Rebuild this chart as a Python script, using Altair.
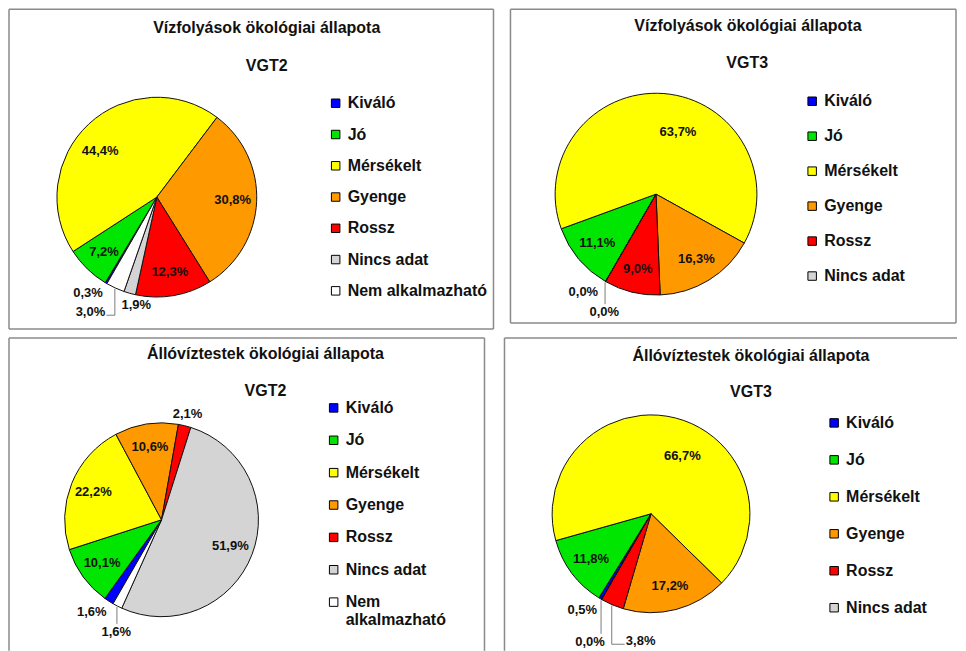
import math
import altair as alt
import pandas as pd

# ---------------- data ----------------
CATS7 = ["Kiváló", "Jó", "Mérsékelt", "Gyenge", "Rossz", "Nincs adat", "Nem alkalmazható"]
CATS6 = CATS7[:6]
COLORS = {
    "Kiváló": "#0000FF",
    "Jó": "#00E600",
    "Mérsékelt": "#FFFF00",
    "Gyenge": "#FF9900",
    "Rossz": "#FF0000",
    "Nincs adat": "#D4D4D4",
    "Nem alkalmazható": "#FFFFFF",
}

TITLE_VF = "Vízfolyások ökológiai állapota"
TITLE_AV = "Állóvíztestek ökológiai állapota"

vf_vgt2 = [0.3, 7.2, 44.4, 30.8, 12.3, 1.9, 3.0]
vf_vgt3 = [0.0, 11.1, 63.7, 16.3, 9.0, 0.0]
av_vgt2 = [1.6, 10.1, 22.2, 10.6, 2.1, 51.9, 1.6]
av_vgt3 = [0.5, 11.8, 66.7, 17.2, 3.8, 0.0]

# ---------------- style ----------------
FONT = "Liberation Sans"
A0 = math.radians(210)          # first slice angle
BORDER = "#8a8a8a"
LEADER = "#7a7a7a"


def case_expr(d, idx, default):
    s = str(default)
    for k, v in reversed(list(d.items())):
        s = f"(datum.cat == '{k}' ? {v[idx]} : {s})"
    return s


def make_panel(title, sub, cats, vals, g):
    df = pd.DataFrame({"cat": cats, "v": vals, "idx": list(range(len(cats)))})
    cx, cy = g["center"]
    r = g["r"]
    W, H = g["size"]

    legend = alt.Legend(
        orient="none", legendX=g["legend"][0], legendY=g["legend"][1], title=None,
        symbolType="square", symbolSize=72, symbolStrokeColor="black", symbolStrokeWidth=1,
        labelFont=FONT, labelFontSize=16, labelFontWeight="bold", labelColor="#111111",
        rowPadding=g["rowpad"], padding=0, labelOffset=4, labelLimit=300,
        **({"labelExpr": g["labelExpr"]} if "labelExpr" in g else {}),
    )
    arc = alt.Chart(df).mark_arc(outerRadius=r, stroke="#111111", strokeWidth=1).encode(
        theta=alt.Theta("v:Q", stack=True, scale=alt.Scale(range=[A0, A0 + 2 * math.pi])),
        color=alt.Color("cat:N", scale=alt.Scale(domain=cats, range=[COLORS[c] for c in cats]),
                        legend=legend),
        order=alt.Order("idx:Q"),
        x=alt.value(cx), y=alt.value(cy),
    )

    ov = g["labels"]
    base = (
        alt.Chart(df)
        .transform_joinaggregate(total="sum(v)")
        .transform_window(cum="sum(v)", sort=[alt.SortField("idx", order="ascending")], frame=[None, 0])
        .transform_calculate(mid=f"{A0} + 2*PI*(datum.cum - datum.v/2)/datum.total")
        .transform_calculate(da=case_expr(ov, 0, 0))
        .transform_calculate(dist=case_expr(ov, 1, round(0.76 * r, 1)))
        .transform_calculate(lead=case_expr(ov, 2, 0))
        .transform_calculate(ang="datum.mid + datum.da*PI/180")
        .transform_calculate(lx=f"{cx} + datum.dist*sin(datum.ang)")
        .transform_calculate(ly=f"{cy} - datum.dist*cos(datum.ang)")
        .transform_calculate(lab="replace(format(datum.v, '.1f'), '.', ',') + '%'")
    )
    labels = base.mark_text(font=FONT, fontSize=13, fontWeight="bold", color="#111111").encode(
        x=alt.X("lx:Q", scale=None, axis=None),
        y=alt.Y("ly:Q", scale=None, axis=None),
        text="lab:N",
    )
    lead = (
        base.transform_filter("datum.lead == 1")
        .transform_calculate(xe=f"{cx} + {r + 1}*sin(datum.mid)")
        .transform_calculate(ye=f"{cy} - {r + 1}*cos(datum.mid)")
        .transform_calculate(side="abs(datum.xe - datum.lx) > 18 ? 1 : 0")
        .transform_calculate(yend="datum.side == 1 ? datum.ly + 3 : datum.ly - 8")
        .transform_calculate(
            xh="datum.side == 1 ? (datum.lx < datum.xe ? datum.lx + 16 : datum.lx - 16) : datum.xe")
    )
    vert = lead.mark_rule(color=LEADER, strokeWidth=1).encode(
        x=alt.X("xe:Q", scale=None, axis=None),
        y=alt.Y("ye:Q", scale=None, axis=None),
        y2="yend:Q",
    )
    horiz = lead.mark_rule(color=LEADER, strokeWidth=1).encode(
        x=alt.X("xe:Q", scale=None, axis=None),
        x2="xh:Q",
        y=alt.Y("yend:Q", scale=None, axis=None),
    )

    one = alt.Data(values=[{"t": 1}])
    layers = []
    for side in g["borders"]:
        x0, y0, x1, y1 = side
        layers.append(
            alt.Chart(one).mark_rule(color=BORDER, strokeWidth=1.5).encode(
                x=alt.value(x0), y=alt.value(y0), x2=alt.value(x1), y2=alt.value(y1))
        )
    for txt, (tx, ty) in [(title, g["title"]), (sub, g["sub"])]:
        layers.append(
            alt.Chart(alt.Data(values=[{"t": txt}])).mark_text(
                font=FONT, fontSize=16, fontWeight="bold", color="#111111"
            ).encode(text="t:N", x=alt.value(tx), y=alt.value(ty))
        )
    layers += [arc, vert, horiz, labels]
    return alt.layer(*layers).properties(width=W, height=H)


# geometry of each panel (pixels inside the panel); total row width kept at 950
g1 = dict(size=(487, 322), center=(149, 189), r=100, title=(259, 20), sub=(259, 58),
          legend=(320, 87), rowpad=15.3,
          borders=[(1, 1, 486, 1), (1, 321, 486, 321), (1, 1, 1, 321), (486, 1, 486, 321)],
          labels={"Kiváló": (5.2, 118, 0), "Nem alkalmazható": (5.4, 133, 1),
                  "Nincs adat": (-5, 110, 0), "Mérsékelt": (-8, 73, 0)})
g2 = dict(size=(448, 322), center=(146.7, 186), r=101, title=(238.7, 18), sub=(238, 55),
          legend=(295, 85), rowpad=19,
          borders=[(1, 1, 447, 1), (1, 315, 447, 315), (1, 1, 1, 315), (447, 1, 447, 315)],
          labels={"Kiváló": (6.6, 122, 0), "Nincs adat": (-6.3, 129, 1),
                  "Mérsékelt": (15, 66, 0)})
g3 = dict(size=(478, 314), center=(153.7, 183), r=97, title=(257.7, 17), sub=(257.7, 54),
          legend=(318, 63), rowpad=16.4,
          borders=[(1, 1, 477, 1), (1, 1, 1, 314), (477, 1, 477, 314)],
          labelExpr="datum.label == 'Nem alkalmazható' ? ['Nem', 'alkalmazható'] : datum.label",
          labels={"Kiváló": (4.1, 116, 0), "Nem alkalmazható": (-5.1, 121, 1),
                  "Rossz": (0, 109, 0)})
g4 = dict(size=(454, 314), center=(147.7, 177), r=99, title=(247.7, 18.7), sub=(247.7, 55.3),
          legend=(323, 78), rowpad=21,
          borders=[(1, 1, 454, 1), (1, 1, 1, 314)],
          labels={"Kiváló": (4.8, 118, 0), "Nincs adat": (-4.5, 142, 1),
                  "Rossz": (-18.5, 128, 1), "Mérsékelt": (14, 66, 0)})

p1 = make_panel(TITLE_VF, "VGT2", CATS7, vf_vgt2, g1)
p2 = make_panel(TITLE_VF, "VGT3", CATS6, vf_vgt3, g2)
p3 = make_panel(TITLE_AV, "VGT2", CATS7, av_vgt2, g3)
p4 = make_panel(TITLE_AV, "VGT3", CATS6, av_vgt3, g4)

row1 = alt.hconcat(p1, p2, spacing=15).resolve_scale(color="independent").resolve_legend(color="independent")
row2 = alt.hconcat(p3, p4, spacing=18).resolve_scale(color="independent").resolve_legend(color="independent")

chart = (
    alt.vconcat(row1, row2, spacing=7)
    .resolve_scale(color="independent")
    .resolve_legend(color="independent")
    .properties(padding=0, background="white")
    .configure_view(stroke=None)
)

chart.save("out.html", embed_options={"renderer": "svg", "actions": False})
